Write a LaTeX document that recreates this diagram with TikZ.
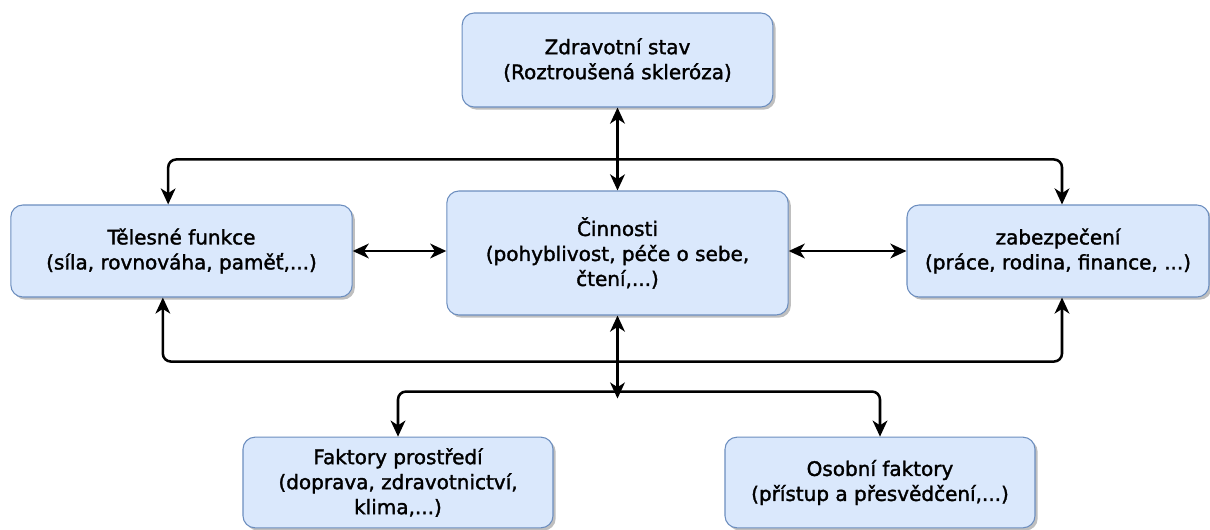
\documentclass[tikz,border=0pt]{standalone}
\usepackage{fontspec}
\setmainfont{DejaVu Sans}
\newfontfamily\boxfont[FakeBold=1.6]{DejaVu Sans}
\usetikzlibrary{arrows.meta,positioning,calc,shadows}

\definecolor{boxfill}{HTML}{DAE8FC}
\definecolor{boxline}{HTML}{6C8EBF}

\begin{document}
\begin{tikzpicture}[
  x=0.75pt, y=-0.75pt,
  >={Stealth[length=12pt, width=11pt, inset=3.5pt]},
  every node/.style={font=\boxfont\fontsize{15pt}{18.75pt}\selectfont},
  box/.style={draw=boxline, fill=boxfill, line width=0.8pt, rounded corners=9pt,
              align=center, inner sep=0pt,
              drop shadow={opacity=0.25, fill=black, shadow xshift=2pt, shadow yshift=-2pt}},
  link/.style={<->, line width=1.9pt},
  bus/.style={<->, line width=1.9pt, rounded corners=6pt},
]
\useasboundingbox (0,0) rectangle (1210,529);

\node[box, minimum width=233pt, minimum height=70.5pt] (health) at (617.5,60)
  {Zdravotní stav\\(Roztroušená skleróza)};
\node[box, minimum width=256pt, minimum height=93pt] (act) at (617.5,253)
  {Činnosti\\(pohyblivost, péče o sebe,\\čtení,...)};
\node[box, minimum width=256pt, minimum height=69pt] (body) at (181.5,251)
  {Tělesné funkce\\(síla, rovnováha, paměť,...)};
\node[box, minimum width=226.5pt, minimum height=69pt] (part) at (1058,251)
  {zabezpečení\\(práce, rodina, finance, ...)};
\node[box, minimum width=232.5pt, minimum height=68pt] (env) at (398,482.5)
  {Faktory prostředí\\(doprava, zdravotnictví,\\klima,...)};
\node[box, minimum width=232.5pt, minimum height=68pt] (pers) at (880,482.5)
  {Osobní faktory\\(přístup a přesvědčení,...)};

% vertical axis through the middle
\draw[link] (health) -- (act);
\draw[link] (act.south) -- ++(0,83);
\coordinate (split) at ([yshift=-57pt]act.south);

% side links
\draw[link] (body.east) -- (body.east -| act.west);
\draw[link] (part.west -| act.east) -- (part.west);

% loops between body and participation
\draw[bus] ([xshift=-10pt]body.north) -- ++(0,-45) -| ([xshift=3pt]part.north);
\draw[bus] ([xshift=-14pt]body.south) -- ++(0,64) -| ([xshift=3pt]part.south);

% branches to the context factors
\draw[->, line width=1.9pt, rounded corners=6pt] (split) -| (env.north);
\draw[->, line width=1.9pt, rounded corners=6pt] (split) -| (pers.north);
\end{tikzpicture}
\end{document}
